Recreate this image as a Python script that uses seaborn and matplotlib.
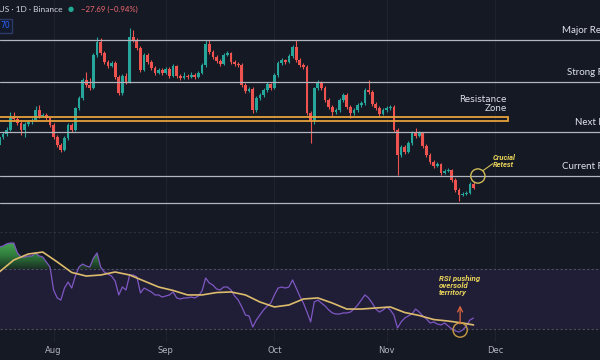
import numpy as np
import pandas as pd
import matplotlib
matplotlib.use('Agg')
import matplotlib.pyplot as plt
import matplotlib.dates as mdates
from matplotlib.patches import Rectangle, PathPatch
from matplotlib.path import Path
from matplotlib.colors import LinearSegmentedColormap
import seaborn as sns

# daily candles, 17 Jul -> 25 Nov
opens = [3212, 3272, 3295, 3325, 3415, 3408, 3378, 3325, 3370, 3385,
         3400, 3475, 3430, 3438, 3415, 3362, 3272, 3212, 3175, 3265,
         3362, 3325, 3490, 3565, 3700, 3662, 3640, 3888, 3985, 3902,
         3835, 3805, 3828, 3722, 3602, 3730, 3685, 4022, 4000, 3940,
         3775, 3888, 3835, 3790, 3752, 3775, 3752, 3782, 3730, 3805,
         3730, 3715, 3730, 3722, 3738, 3722, 3752, 3812, 3970, 3910,
         3872, 3842, 3820, 3888, 3902, 3835, 3820, 3812, 3662, 3618,
         3632, 3475, 3565, 3588, 3625, 3670, 3640, 3738, 3828, 3850,
         3835, 3880, 3948, 3850, 3812, 3798, 3452, 3392, 3640, 3685,
         3640, 3550, 3498, 3460, 3475, 3550, 3588, 3498, 3452, 3475,
         3512, 3528, 3625, 3610, 3520, 3490, 3445, 3475, 3490, 3498,
         3325, 3138, 3198, 3160, 3228, 3302, 3280, 3302, 3205, 3138,
         3085, 3055, 3070, 3002, 3018, 3025, 2950, 2875, 2838, 2845,
         2852, 2920]
highs = [3290, 3310, 3345, 3460, 3460, 3425, 3390, 3385, 3400, 3415,
         3505, 3512, 3455, 3450, 3425, 3380, 3285, 3225, 3280, 3375,
         3380, 3500, 3580, 3715, 3760, 3715, 3900, 4022, 4015, 3915,
         3850, 3845, 3840, 3735, 3745, 3750, 4090, 4075, 4012, 3955,
         3905, 3900, 3850, 3805, 3790, 3790, 3800, 3795, 3820, 3815,
         3745, 3760, 3745, 3760, 3750, 3770, 3825, 4000, 4000, 3922,
         3885, 3855, 3900, 3915, 3912, 3850, 3835, 3825, 3675, 3650,
         3645, 3580, 3600, 3640, 3685, 3680, 3750, 3840, 3865, 3860,
         3895, 3960, 4000, 3865, 3825, 3810, 3465, 3650, 3700, 3695,
         3655, 3565, 3510, 3490, 3565, 3600, 3600, 3510, 3490, 3525,
         3540, 3640, 3700, 3625, 3535, 3505, 3490, 3505, 3512, 3510,
         3340, 3212, 3210, 3240, 3315, 3340, 3315, 3312, 3218, 3150,
         3098, 3085, 3080, 3030, 3040, 3035, 2962, 2888, 2858, 2865,
         2932, 2935]
lows = [3200, 3260, 3282, 3315, 3395, 3365, 3288, 3272, 3358, 3372,
        3390, 3418, 3420, 3400, 3350, 3260, 3198, 3160, 3165, 3250,
        3310, 3315, 3478, 3552, 3650, 3628, 3630, 3875, 3890, 3822,
        3792, 3795, 3710, 3588, 3590, 3672, 3675, 3988, 3928, 3762,
        3765, 3822, 3778, 3740, 3742, 3740, 3742, 3718, 3720, 3718,
        3702, 3705, 3710, 3712, 3710, 3712, 3742, 3800, 3898, 3860,
        3830, 3808, 3810, 3878, 3822, 3808, 3800, 3650, 3605, 3608,
        3452, 3462, 3552, 3575, 3612, 3628, 3630, 3725, 3815, 3822,
        3825, 3868, 3838, 3800, 3785, 3440, 3228, 3370, 3628, 3628,
        3538, 3485, 3422, 3448, 3462, 3538, 3485, 3415, 3440, 3462,
        3500, 3515, 3598, 3508, 3478, 3432, 3435, 3462, 3478, 3312,
        2988, 3125, 3148, 3150, 3215, 3268, 3270, 3192, 3125, 3072,
        3042, 3045, 2990, 2992, 3008, 2938, 2862, 2792, 2828, 2835,
        2842, 2880]
closes = [3272, 3295, 3325, 3415, 3408, 3378, 3325, 3370, 3385, 3400,
          3475, 3430, 3438, 3415, 3362, 3272, 3212, 3175, 3265, 3362,
          3325, 3490, 3565, 3700, 3662, 3640, 3888, 3985, 3902, 3835,
          3805, 3828, 3722, 3602, 3730, 3685, 4022, 4000, 3940, 3775,
          3888, 3835, 3790, 3752, 3775, 3752, 3782, 3730, 3805, 3730,
          3715, 3730, 3722, 3738, 3722, 3752, 3812, 3970, 3910, 3872,
          3842, 3820, 3888, 3902, 3835, 3820, 3812, 3662, 3618, 3632,
          3475, 3565, 3588, 3625, 3670, 3640, 3738, 3828, 3850, 3835,
          3880, 3948, 3850, 3812, 3798, 3452, 3392, 3640, 3685, 3640,
          3550, 3498, 3460, 3475, 3550, 3588, 3498, 3452, 3475, 3512,
          3528, 3625, 3610, 3520, 3490, 3445, 3475, 3490, 3498, 3325,
          3138, 3198, 3160, 3228, 3302, 3280, 3302, 3205, 3138, 3085,
          3055, 3070, 3002, 3018, 3025, 2950, 2875, 2838, 2845, 2852,
          2920, 2892]

rsi = [84.7, 85.3, 86.7, 87.3, 87.3, 80.7, 78, 78, 78.7, 78.7,
       80.7, 78.7, 78, 74.7, 71.3, 56, 50.7, 49.3, 57.3, 61.3,
       57.3, 65.3, 71.3, 73.3, 72, 71.3, 77.3, 80.7, 71.3, 68,
       66.7, 65.3, 62, 52.7, 58, 56, 66, 66, 64.7, 54,
       57.3, 56, 54.7, 52.7, 52.7, 51.3, 52, 52.7, 54.7, 50.7,
       50, 50.7, 50.7, 51.3, 50.7, 52, 55.3, 64, 60.7, 59.3,
       56.7, 56, 58, 58, 56, 52, 49.3, 44.7, 39.3, 38.7,
       31.3, 36, 39.3, 42.7, 45.3, 47.3, 52.7, 57.3, 58, 57.3,
       58, 62.7, 57.3, 52, 47.3, 41.3, 34.7, 48, 49.3, 47.3,
       45.3, 42.7, 40.7, 40, 40, 40.7, 40.7, 41.3, 43.3, 46,
       49.3, 52.7, 50.7, 47.3, 43.3, 41.3, 42.7, 44.7, 42.7, 39.3,
       30.7, 34.7, 37.3, 38.7, 40, 43.3, 41.3, 38.7, 36.7, 34,
       34.7, 33.3, 32.7, 34, 32, 30, 28.7, 28, 29.3, 32,
       36, 37.3]
ma_days = [0, 4, 8, 12, 16, 20, 24, 28, 32, 36, 40, 44, 48, 52, 56, 60, 64,
           68, 72, 76, 80, 84, 88, 92, 96, 100, 104, 108, 112, 116, 120, 124, 128, 131]
rsi_ma = [68, 76, 80, 81.3, 74.7, 67.7, 65.3, 66, 68, 66, 62, 58, 55.7, 52.7, 52.7, 54.3, 54.7,
          52.7, 48, 44.7, 46, 50, 50.7, 47.3, 43.3, 43.3, 44, 44.7, 41, 39, 36.3, 35.3, 34, 32.7]

levels = [4000, 3685, 3310, 2980, 2778]
level_labels = ['Major Resistance', 'Strong Resistance', 'Next Resistance', 'Current Resistance', '']
zone_low, zone_high = 3392, 3422

BG = '#151924'
GREEN = '#26a69a'
RED = '#ef5350'
ORANGE = '#e5a13a'
LEVEL = '#b2b5be'
YELLOW = '#e8d35a'
LABEL_FONT = ['Lato', 'DejaVu Sans']

sns.set_theme(style='dark', rc={'axes.facecolor': BG, 'figure.facecolor': BG,
                                'savefig.facecolor': BG})
plt.rcParams['font.family'] = ['DejaVu Sans']

dates = pd.date_range('2024-07-17', periods=len(closes), freq='D')
def day(d):
    return dates[0] + pd.Timedelta(days=d)

fig = plt.figure(figsize=(6, 3.6), dpi=100)
ax = fig.add_axes([0, 1 - 215 / 360, 1, 215 / 360])
ax2 = fig.add_axes([0, 1 - 342 / 360, 1, 127 / 360])

xlim = (day(0.19), day(165.94))
months = pd.date_range('2024-08-01', periods=5, freq='MS')
for a in (ax, ax2):
    for m in months:
        a.axvline(m, color='#1f2331', lw=0.8, zorder=0)
    for s in a.spines.values():
        s.set_visible(False)

# candles
o = np.array(opens)
c = np.array(closes)
cols = np.where(c >= o, GREEN, RED)
ax.vlines(dates, lows, highs, colors=cols, lw=0.8, zorder=2)
ax.bar(dates, np.maximum(np.abs(c - o), 5), bottom=np.minimum(o, c), width=0.76,
       color=cols, linewidth=0, zorder=2)

for lv in levels:
    ax.axhline(lv, color=LEVEL, lw=0.9, zorder=3)
label_x = [155.4, 156.7, 159.0, 155.4]
for lv, lab, lx in zip(levels, level_labels, label_x):
    ax.annotate(lab, xy=(day(lx), lv), xytext=(0, 6.8), textcoords='offset points',
                ha='left', va='center', fontsize=7, color='#e0e3eb', family=LABEL_FONT)

x0 = mdates.date2num(day(-5))
x1 = mdates.date2num(day(140.4))
ax.add_patch(Rectangle((x0, zone_low), x1 - x0, zone_high - zone_low, fill=False,
                       edgecolor=ORANGE, lw=1.3, zorder=3))
ax.text(day(140.2), 3522, 'Resistance\nZone', ha='right', va='center', fontsize=6.3,
        color='#e0e3eb', linespacing=1.05)

ax.scatter([day(132.2)], [2980], s=105, facecolors='none', edgecolors='#cdbb58', lw=1, zorder=4)
ax.plot([day(133.6), day(136.3)], [3020, 3072], color='#cdbb58', lw=0.8, zorder=4)
ax.text(day(136.4), 3089, 'Crucial\nRetest', ha='left', va='center', fontsize=5.4,
        fontstyle='italic', fontweight='bold', color=YELLOW, linespacing=1.0,
        family=['Roboto', 'DejaVu Sans'])

ax.set_xlim(xlim)
ax.set_ylim(2687.5, 4300)
ax.set_xticks([])
ax.set_yticks([])

# RSI pane
ax2.axhspan(30, 70, color='#201e37', lw=0, zorder=0.5)
for lv, al in ((70, 0.55), (30, 0.55), (94.7, 0.25)):
    ax2.axhline(lv, color='#787b86', lw=0.8, ls=(0, (2, 2)), alpha=al, zorder=1)

sns.lineplot(x=dates, y=rsi, ax=ax2, color='#7e57c2', lw=0.9, zorder=3)
sns.lineplot(x=dates[ma_days], y=rsi_ma, ax=ax2, color='#dcbc6c', lw=1.2, zorder=4)

xnum = mdates.date2num(dates)
r = np.array(rsi)
fill = ax2.fill_between(xnum, r, 70, where=r > 70, interpolate=True,
                        facecolor='none', edgecolor='none')
clip = PathPatch(Path.make_compound_path(*fill.get_paths()), transform=ax2.transData,
                 facecolor='none', edgecolor='none')
ax2.add_patch(clip)
cmap = LinearSegmentedColormap.from_list('ob', ['#1a3024', '#2f7a3c', '#46a852'])
im = ax2.imshow(np.linspace(0, 1, 64).reshape(-1, 1), extent=[xnum[0], xnum[-1], 70, 88],
                origin='lower', aspect='auto', cmap=cmap, zorder=2)
im.set_clip_path(clip)

ax2.scatter([day(127.3)], [29.3], s=105, facecolors='none', edgecolors='#c99a45', lw=1, zorder=5)
ax2.annotate('', xy=(day(127.3), 47.5), xytext=(day(127.3), 31.5),
             arrowprops=dict(arrowstyle='->,head_length=0.3,head_width=0.15',
                             color='#e0673f', lw=0.9), zorder=5)
ax2.text(day(121.5), 59, 'RSI pushing\noversold\nterritory', ha='left', va='center',
         fontsize=5.7, fontstyle='italic', fontweight='bold', color=YELLOW,
         linespacing=1.05, family=['Roboto', 'DejaVu Sans'])

ax2.set_xlim(xlim)
ax2.set_ylim(21.33, 106)
ax2.set_ylabel('')
ax2.set_yticks([])
ax2.xaxis.set_major_locator(mdates.MonthLocator())
ax2.xaxis.set_major_formatter(mdates.DateFormatter('%b'))
ax2.tick_params(axis='x', length=0, pad=3, labelsize=6, labelcolor='#b2b5be')

# header
fig.text(62 / 600, 1 - 9 / 360, 'Ethereum / TetherUS · 1D · Binance', ha='right', va='center',
         fontsize=6, color='#d1d4dc', family=LABEL_FONT)
fig.text(71 / 600, 1 - 9 / 360, '●', ha='center', va='center', fontsize=5, color='#22ab94')
fig.text(81 / 600, 1 - 9 / 360, '−27.69 (−0.94%)', ha='left', va='center',
         fontsize=5.6, color='#f06a6f', family=LABEL_FONT)
fig.add_artist(Rectangle((-10 / 600, 1 - 33 / 360), 22 / 600, 14 / 360,
                         transform=fig.transFigure, facecolor='#131a2c',
                         edgecolor='#2b3a66', lw=1))
fig.text(10 / 600, 1 - 26 / 360, '70', ha='right', va='center', fontsize=5.5, color='#2962ff')

fig.savefig('out.png', dpi=100)
